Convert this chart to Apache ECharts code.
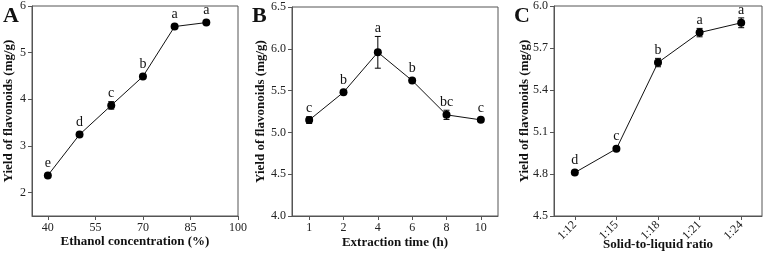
<!DOCTYPE html>
<html>
<head>
<meta charset="utf-8">
<script src="https://cdn.jsdelivr.net/npm/echarts@6/dist/echarts.min.js"></script>
<style>
  html, body { margin: 0; padding: 0; background: #fff; }
  #chart { width: 764px; height: 254px; }
</style>
</head>
<body>
<div id="chart"></div>
<script>
// panel A: ethanol concentration
const ethanolX = [40, 50, 60, 70, 80, 90]
const ethanolY = [2.37, 3.245, 3.87, 4.49, 5.56, 5.645]
const ethanolErr = [0.03, 0.03, 0.08, 0.03, 0.03, 0.03]
const ethanolSig = ['e', 'd', 'c', 'b', 'a', 'a']
const ethanolTicksX = [40, 55, 70, 85, 100]
const ethanolTicksY = [2, 3, 4, 5, 6]

// panel B: extraction time
const timeCats = ['1', '2', '4', '6', '8', '10']
const timeY = [5.147, 5.48, 5.958, 5.62, 5.21, 5.15]
const timeErr = [0.04, 0.02, 0.19, 0.02, 0.055, 0.02]
const timeSig = ['c', 'b', 'a', 'b', 'bc', 'c']

// panel C: solid-to-liquid ratio
const ratioCats = ['1:12', '1:15', '1:18', '1:21', '1:24']
const ratioY = [4.81, 4.98, 5.596, 5.81, 5.88]
const ratioErr = [0.012, 0.012, 0.03, 0.03, 0.035]
const ratioSig = ['d', 'c', 'b', 'a', 'a']

const FONT = '"Liberation Serif", "DejaVu Serif", serif'
const AXIS_COLOR = '#555'

const chart = echarts.init(document.getElementById('chart'))

function errorSeries(idx, xs, ys, errs, sig) {
  const data = ys.map((y, i) => [xs[i], y, errs[i], sig[i]])
  return {
    type: 'custom',
    xAxisIndex: idx,
    yAxisIndex: idx,
    z: 3,
    data: data,
    renderItem: (params, api) => {
      const x = api.value(0)
      const y = api.value(1)
      const e = api.value(2)
      const hi = api.coord([x, y + e])
      const lo = api.coord([x, y - e])
      const c = api.coord([x, y])
      const cap = 3
      const labelY = Math.min(hi[1], c[1] - 4) - 1
      return {
        type: 'group',
        children: [
          { type: 'line', shape: { x1: hi[0], y1: hi[1], x2: lo[0], y2: lo[1] }, style: { stroke: '#000', lineWidth: 1 } },
          { type: 'line', shape: { x1: hi[0] - cap, y1: hi[1], x2: hi[0] + cap, y2: hi[1] }, style: { stroke: '#000', lineWidth: 1 } },
          { type: 'line', shape: { x1: lo[0] - cap, y1: lo[1], x2: lo[0] + cap, y2: lo[1] }, style: { stroke: '#000', lineWidth: 1 } },
          {
            type: 'text',
            x: c[0],
            y: labelY,
            style: {
              text: sig[params.dataIndex],
              fill: '#111',
              font: '14px ' + FONT,
              textAlign: 'center',
              textVerticalAlign: 'bottom'
            }
          }
        ]
      }
    }
  }
}

function lineSeries(idx, xs, ys) {
  return {
    type: 'line',
    xAxisIndex: idx,
    yAxisIndex: idx,
    data: ys.map((y, i) => [xs[i], y]),
    symbol: 'circle',
    symbolSize: 8,
    itemStyle: { color: '#000' },
    lineStyle: { color: '#111', width: 1 },
    z: 4
  }
}

const axisBase = {
  axisLine: { show: true, lineStyle: { color: AXIS_COLOR, width: 1 } },
  axisTick: { show: true, lineStyle: { color: AXIS_COLOR }, length: 4 },
  splitLine: { show: false },
  nameLocation: 'middle',
  nameMoveOverlap: false,
  nameTextStyle: { fontFamily: FONT, fontWeight: 'bold', fontSize: 13, color: '#111' }
}
const labelBase = { fontFamily: FONT, fontSize: 12, color: '#222', margin: 6 }

const gridBase = { show: true, borderColor: AXIS_COLOR, borderWidth: 1, containLabel: false, outerBoundsMode: 'none' }

const option = {
  animation: false,
  backgroundColor: '#fff',
  grid: [
    Object.assign({ left: 32, top: 6, width: 206, height: 210 }, gridBase),
    Object.assign({ left: 292, top: 7, width: 206, height: 209 }, gridBase),
    Object.assign({ left: 554, top: 6, width: 208, height: 210 }, gridBase)
  ],
  xAxis: [
    Object.assign({}, axisBase, {
      gridIndex: 0, type: 'value', min: 35, max: 100,
      name: 'Ethanol concentration (%)', nameGap: 19,
      axisTick: Object.assign({}, axisBase.axisTick, { customValues: ethanolTicksX }),
      axisLabel: Object.assign({}, labelBase, { customValues: ethanolTicksX })
    }),
    Object.assign({}, axisBase, {
      gridIndex: 1, type: 'category', data: timeCats, boundaryGap: true,
      name: 'Extraction time (h)', nameGap: 20,
      axisTick: Object.assign({}, axisBase.axisTick, { alignWithLabel: true }),
      axisLabel: Object.assign({}, labelBase)
    }),
    Object.assign({}, axisBase, {
      gridIndex: 2, type: 'category', data: ratioCats, boundaryGap: true,
      name: 'Solid-to-liquid ratio', nameGap: 22,
      axisTick: Object.assign({}, axisBase.axisTick, { alignWithLabel: true }),
      axisLabel: Object.assign({}, labelBase, { rotate: 45, fontSize: 12, margin: 7 })
    })
  ],
  yAxis: [
    Object.assign({}, axisBase, {
      gridIndex: 0, type: 'value', min: 1.5, max: 6,
      name: 'Yield of flavonoids (mg/g)', nameGap: 17,
      axisTick: Object.assign({}, axisBase.axisTick, { customValues: ethanolTicksY }),
      axisLabel: Object.assign({}, labelBase, { customValues: ethanolTicksY })
    }),
    Object.assign({}, axisBase, {
      gridIndex: 1, type: 'value', min: 4, max: 6.5, interval: 0.5,
      name: 'Yield of flavonoids (mg/g)', nameGap: 25,
      axisLabel: Object.assign({}, labelBase, { formatter: (v) => v.toFixed(1) })
    }),
    Object.assign({}, axisBase, {
      gridIndex: 2, type: 'value', min: 4.5, max: 6.0, interval: 0.3,
      name: 'Yield of flavonoids (mg/g)', nameGap: 23,
      axisLabel: Object.assign({}, labelBase, { formatter: (v) => v.toFixed(1) })
    })
  ],
  graphic: [
    { type: 'text', left: 3, top: 5, style: { text: 'A', font: 'bold 22px ' + FONT, fill: '#111' } },
    { type: 'text', left: 252, top: 5, style: { text: 'B', font: 'bold 22px ' + FONT, fill: '#111' } },
    { type: 'text', left: 514, top: 5, style: { text: 'C', font: 'bold 22px ' + FONT, fill: '#111' } }
  ],
  series: [
    lineSeries(0, ethanolX, ethanolY),
    errorSeries(0, ethanolX, ethanolY, ethanolErr, ethanolSig),
    lineSeries(1, timeCats, timeY),
    errorSeries(1, timeCats, timeY, timeErr, timeSig),
    lineSeries(2, ratioCats, ratioY),
    errorSeries(2, ratioCats, ratioY, ratioErr, ratioSig)
  ]
}

chart.setOption(option)
</script>
</body>
</html>
